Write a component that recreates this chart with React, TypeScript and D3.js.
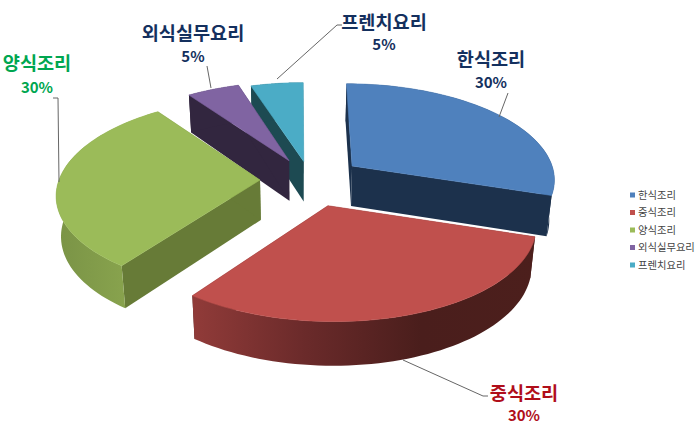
import React, { useEffect, useRef } from 'react';
import * as d3 from 'd3';

const categories = ['한식조리', '중식조리', '양식조리', '외식실무요리', '프렌치요리'];
const shares = [30, 30, 30, 5, 5];
const explode = [52, 58, 50, 46, 40];

const topColors = ['#4f81bd', '#c0504d', '#9bbb59', '#8064a2', '#4bacc6'];
const cutColors = ['#1c314c', '#4a1e1c', '#677b37', '#32263f', '#1d4a52'];
const rimColors = ['url(#rimBlue)', 'url(#rimRed)', 'url(#rimGreen)', '#32263f', '#1d4a52'];
const labelColors = ['#14305e', '#b00e1a', '#00a650', '#14305e', '#14305e'];

// the picture's perspective is not the same for every slice
const radiusX = [200, 204, 201, 198, 198];
const radiusY = [92, 95, 94, 93, 93];
const perspective = [0.12, 0.18, 0.14, 0.18, 0.18];

const labelX = [491, 524, 37, 193, 384];
const labelY = [59, 393, 63, 33, 22];
const percentY = [83, 416, 88, 57, 45];
const leaders = [
    [[508, 93], [499, 117]],
    [[488, 396], [483, 396], [403, 360]],
    [[53, 98], [58, 98], [59, 182]],
    [[207, 66], [211, 88]],
    [[342, 25], [337, 25], [277, 79]],
];

// back to front
const drawOrder = [4, 3, 0, 2, 1];

const WIDTH = 700;
const HEIGHT = 440;
const cx = 310;
const cy = 180;
const vanishX = 300;
const baseDepth = 40;

const App: React.FC = () => {
    const svgRef = useRef<SVGSVGElement>(null);

    useEffect(() => {
        if (!svgRef.current) return;

        const svg = d3.select(svgRef.current);
        svg.selectAll('*').remove();

        const defs = svg.append('defs');
        const addGradient = (id: string, stops: string[]) => {
            const g = defs.append('linearGradient').attr('id', id)
                .attr('x1', 0).attr('x2', 1).attr('y1', 0).attr('y2', 0);
            stops.forEach((c, i) => g.append('stop')
                .attr('offset', i / (stops.length - 1))
                .attr('stop-color', c));
        };
        addGradient('rimBlue', ['#1c314c', '#1c314c']);
        addGradient('rimRed', ['#913b39', '#6a2a2a', '#4a1e1c', '#4c1f1c']);
        addGradient('rimGreen', ['#7a9346', '#8fab51']);

        const arcs = d3.pie<number>().sort(null)(shares);
        const pathLine = d3.line<[number, number]>();

        const drawSlice = (i: number) => {
            const arc = arcs[i];
            const rx = radiusX[i];
            const ry = radiusY[i];
            const persp = perspective[i];
            const mid = (arc.startAngle + arc.endAngle) / 2;
            const ax = cx + explode[i] * Math.sin(mid);
            const ay = cy - explode[i] * Math.cos(mid) * (ry / rx);

            // top face point on the rim, with the near side drawn bigger
            const top = (a: number): [number, number] => {
                const c = -Math.cos(a);
                const k = 1 / (1 - persp * c);
                return [vanishX + (ax - vanishX + rx * Math.sin(a)) * k, ay + ry * c * k];
            };
            // the same point on the bottom face
            const lower = (p: [number, number], a: number): [number, number] => {
                const k = 1 / (1 + persp * Math.cos(a));
                return [vanishX + (p[0] - vanishX) * 0.98, p[1] + baseDepth * Math.sqrt(k)];
            };
            const apexLow: [number, number] = [vanishX + (ax - vanishX) * 0.98, ay + baseDepth];

            const steps = d3.range(0, 61).map(s => arc.startAngle + (arc.endAngle - arc.startAngle) * s / 60);
            const rim = steps.map(top);
            const rimLow = steps.map((a, s) => lower(rim[s], a));
            const g = svg.append('g').attr('class', `slice-${i}`);

            // cut faces
            const cut = (a: number) => {
                const p = top(a);
                g.append('path')
                    .attr('d', pathLine([[ax, ay], p, lower(p, a), apexLow]) + 'Z')
                    .attr('fill', cutColors[i]);
            };
            cut(arc.startAngle);
            cut(arc.endAngle);

            // outer wall
            g.append('path')
                .attr('d', pathLine([...rim, ...rimLow.slice().reverse()]) + 'Z')
                .attr('fill', rimColors[i]);

            // top face
            g.append('path')
                .attr('d', pathLine([[ax, ay], ...rim]) + 'Z')
                .attr('fill', topColors[i])
                .attr('stroke', topColors[i])
                .attr('stroke-width', 0.6);
        };
        drawOrder.forEach(drawSlice);

        // leader lines
        leaders.forEach(pts => {
            svg.append('path')
                .attr('d', pathLine(pts as [number, number][]))
                .attr('fill', 'none')
                .attr('stroke', '#666666')
                .attr('stroke-width', 1);
        });

        // data labels
        const font = '"Noto Sans CJK KR", sans-serif';
        categories.forEach((name, i) => {
            svg.append('text')
                .attr('x', labelX[i]).attr('y', labelY[i])
                .attr('dy', '0.35em')
                .attr('text-anchor', 'middle')
                .attr('font-family', font)
                .attr('font-size', 18.6)
                .attr('font-weight', 700)
                .attr('fill', labelColors[i])
                .text(name);
            svg.append('text')
                .attr('x', labelX[i]).attr('y', percentY[i])
                .attr('dy', '0.35em')
                .attr('text-anchor', 'middle')
                .attr('font-family', font)
                .attr('font-size', 15)
                .attr('font-weight', 700)
                .attr('fill', labelColors[i])
                .text(`${shares[i]}%`);
        });

        // legend
        const legendY = d3.scalePoint<string>().domain(categories).range([195, 265]);
        const legend = svg.append('g');
        categories.forEach((name, i) => {
            const y = legendY(name) as number;
            legend.append('rect')
                .attr('x', 630).attr('y', y - 2.5)
                .attr('width', 5).attr('height', 5)
                .attr('fill', topColors[i]);
            legend.append('text')
                .attr('x', 638).attr('y', y)
                .attr('dy', '0.35em')
                .attr('font-family', font)
                .attr('font-size', 10.3)
                .attr('fill', '#444444')
                .text(name);
        });
    }, []);

    return (
        <svg
            ref={svgRef}
            width={WIDTH}
            height={HEIGHT}
            style={{ position: 'absolute', left: 0, top: 0, display: 'block', background: '#ffffff' }}
        />
    );
};

export default App;
